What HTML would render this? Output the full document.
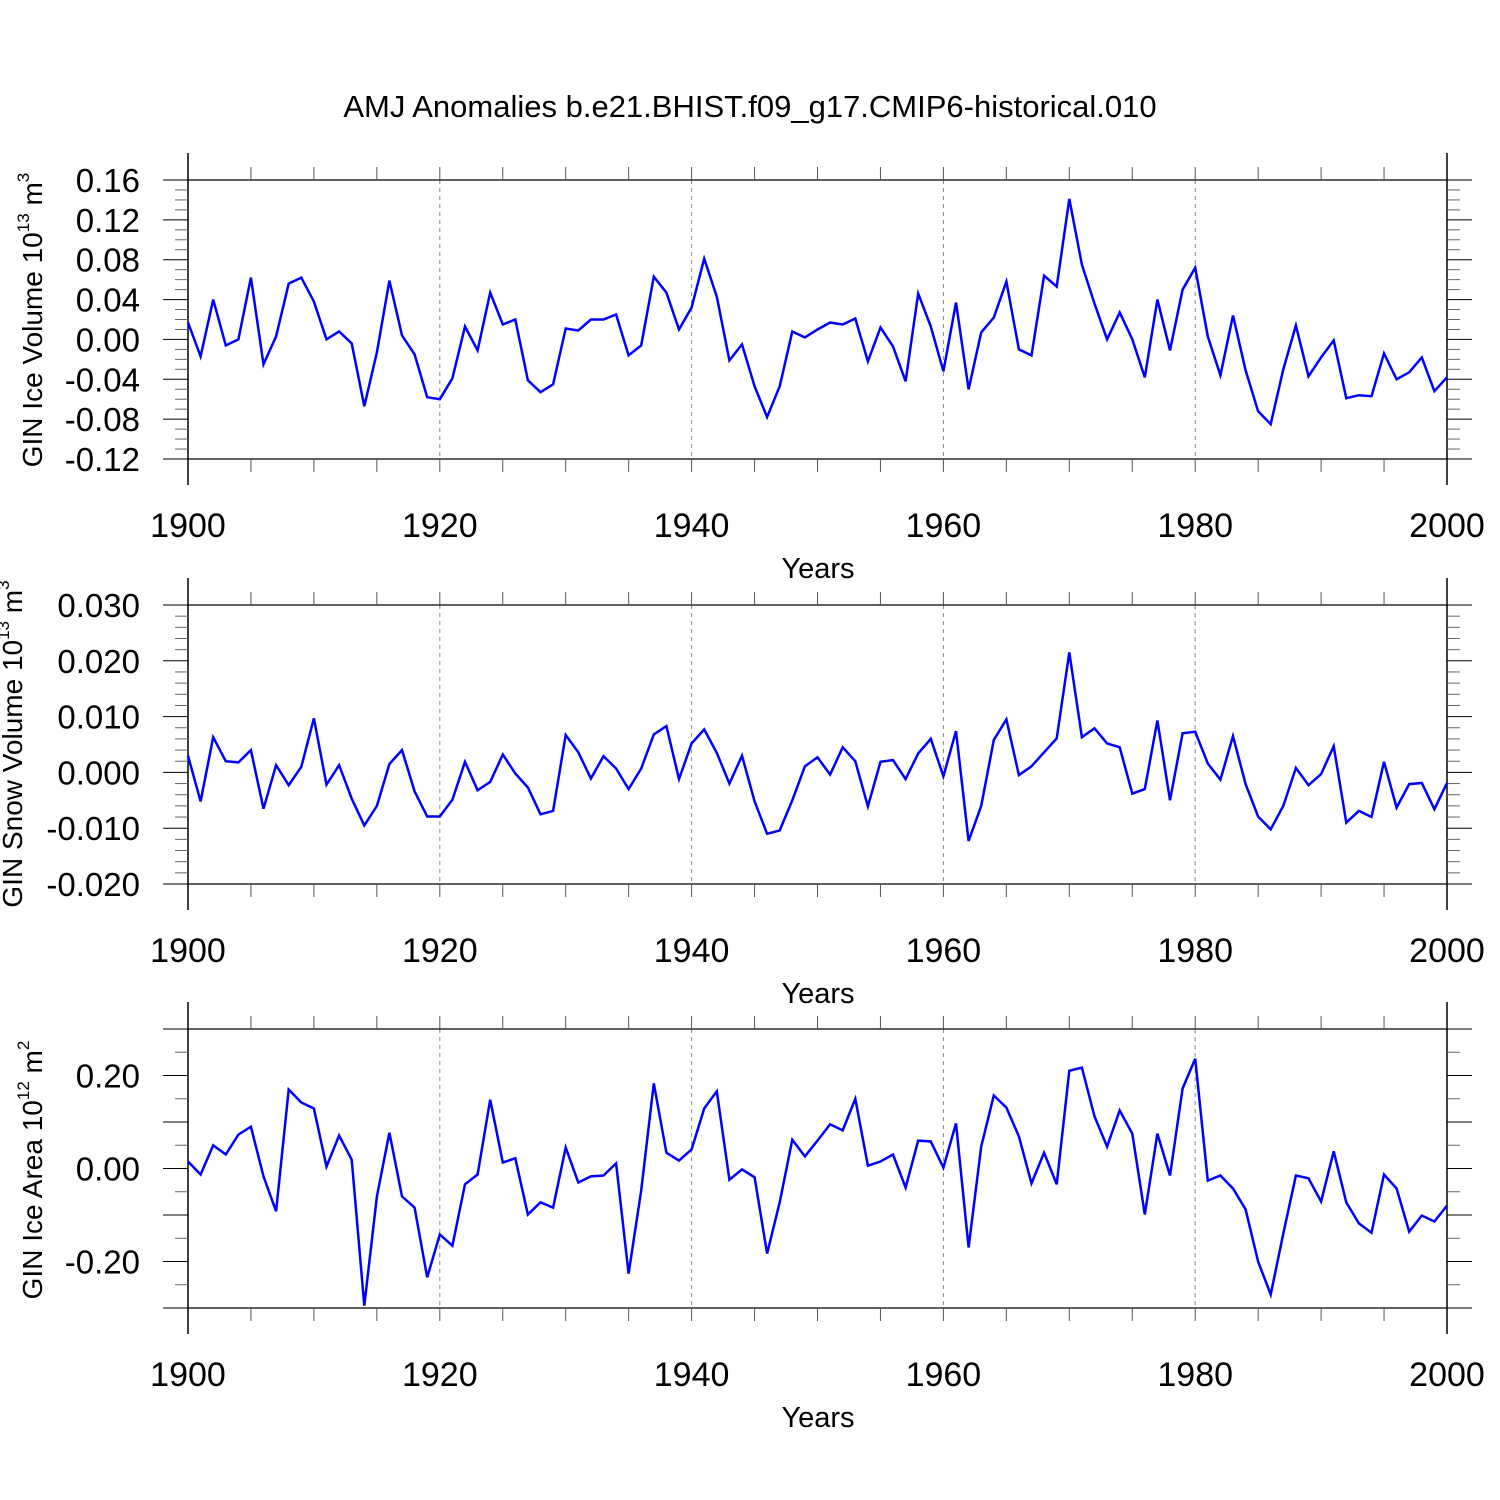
<!DOCTYPE html>
<html><head><meta charset="utf-8"><style>
body{margin:0;background:#fff}svg{display:block;font-family:"Liberation Sans",Arial,sans-serif}
</style></head><body>
<svg id="c" width="1500" height="1500" viewBox="0 0 1500 1500">
<text x="750" y="117" text-anchor="middle" font-size="31">AMJ Anomalies b.e21.BHIST.f09_g17.CMIP6-historical.010</text>
</svg>
<script>
const years=[];for(let y=1900;y<=2000;y++)years.push(y);
const iceVolume=[.017,-.017,.040,-.006,0,.062,-.025,.003,.056,.062,.038,0,.008,-.004,-.067,-.013,.059,.004,-.015,-.058,-.06,-.039,.013,-.011,.047,.015,.02,-.041,-.053,-.045,.011,.009,.02,.02,.025,-.016,-.006,.063,.047,.01,.032,.081,.043,-.021,-.005,-.047,-.078,-.047,.008,.002,.01,.017,.015,.021,-.022,.012,-.007,-.042,.046,.013,-.032,.037,-.05,.007,.022,.058,-.01,-.016,.064,.053,.141,.075,.036,0,.027,0,-.038,.04,-.011,.05,.072,.003,-.036,.024,-.031,-.072,-.085,-.03,.014,-.037,-.018,-.001,-.059,-.056,-.057,-.014,-.04,-.033,-.018,-.052,-.038];
const snowVolume=[.003,-.0052,.0063,.002,.0018,.004,-.0065,.0013,-.0023,.001,.0097,-.0022,.0013,-.0047,-.0095,-.006,.0015,.004,-.0034,-.0079,-.0079,-.0049,.0019,-.0032,-.0017,.0032,-.0002,-.0027,-.0075,-.0069,.0067,.0036,-.0011,.0029,.0007,-.003,.0007,.0068,.0083,-.0012,.0052,.0077,.0035,-.002,.003,-.0052,-.011,-.0104,-.005,.0011,.0027,-.0004,.0045,.002,-.0061,.0019,.0022,-.0012,.0034,.006,-.0007,.0074,-.0123,-.006,.0058,.0095,-.0005,.0011,.0036,.0061,.0215,.0063,.0079,.0052,.0045,-.0038,-.003,.0093,-.005,.007,.0073,.0016,-.0013,.0065,-.0021,-.0079,-.0102,-.006,.0008,-.0023,-.0003,.0047,-.009,-.0069,-.008,.0019,-.0063,-.0021,-.0019,-.0066,-.0019];
const iceArea=[.015,-.013,.05,.03,.073,.09,-.017,-.092,.17,.142,.129,.004,.071,.019,-.295,-.06,.077,-.06,-.084,-.234,-.142,-.166,-.034,-.013,.148,.013,.022,-.099,-.073,-.084,.045,-.03,-.017,-.015,.011,-.226,-.047,.183,.034,.017,.041,.129,.166,-.024,-.002,-.019,-.183,-.073,.062,.026,.06,.095,.082,.15,.006,.015,.03,-.041,.06,.058,.002,.097,-.17,.047,.157,.131,.069,-.032,.034,-.034,.21,.217,.112,.047,.125,.075,-.099,.075,-.015,.172,.236,-.026,-.015,-.043,-.088,-.2,-.271,-.14,-.015,-.021,-.071,.037,-.073,-.118,-.138,-.013,-.043,-.136,-.101,-.114,-.08];
const xTickLabels=["1900","1920","1940","1960","1980","2000"];
const iceVolTicks=["0.16","0.12","0.08","0.04","0.00","-0.04","-0.08","-0.12"];
const snowTicks=["0.030","0.020","0.010","0.000","-0.010","-0.020"];
const areaTicks=["0.20","0.00","-0.20"];

const svg=document.getElementById('c');const NS='http://www.w3.org/2000/svg';
function mk(t,a,p){const e=document.createElementNS(NS,t);for(const k in a)e.setAttribute(k,a[k]);(p||svg).appendChild(e);return e;}
const X0=188,X1=1447;
function xs(y){return X0+(y-1900)/100*(X1-X0);}
function panel(cfg){
 const g=mk('g',{});
 
 
 const T=cfg.top,B=cfg.bot;
 const ys=v=>T+(cfg.max-v)/(cfg.max-cfg.min)*(B-T);
 for(let y=1920;y<=1980;y+=20){const l=mk('line',{x1:xs(y),x2:xs(y),y1:T,y2:B,stroke:'#888','stroke-width':1,'stroke-dasharray':'4,4'},g);
  }
 mk('line',{x1:X0,x2:X1,y1:T,y2:T,stroke:'#000','stroke-width':1.2},g);
 mk('line',{x1:X0,x2:X1,y1:B,y2:B,stroke:'#000','stroke-width':1.2},g);
 mk('line',{x1:X0,x2:X0,y1:T-27,y2:B+26,stroke:'#000','stroke-width':1.5},g);
 mk('line',{x1:X1,x2:X1,y1:T-27,y2:B+26,stroke:'#000','stroke-width':1.5},g);
 for(let y=1905;y<2000;y+=5){const x=xs(y);
  mk('line',{x1:x,x2:x,y1:T-13,y2:T,stroke:'#555','stroke-width':1},g);
  mk('line',{x1:x,x2:x,y1:B,y2:B+13,stroke:'#555','stroke-width':1},g);}
 const nMin=Math.round((cfg.max-cfg.min)/cfg.minor);
 for(let i=0;i<=nMin;i++){const v=cfg.max-i*cfg.minor;const y=ys(v);
  const maj=Math.abs(Math.round(v/cfg.major)*cfg.major-v)<cfg.minor/10;
  const L=maj?25:13;
  mk('line',{x1:X0-L,x2:X0,y1:y,y2:y,stroke:maj?'#000':'#666','stroke-width':1},g);
  mk('line',{x1:X1,x2:X1+L,y1:y,y2:y,stroke:maj?'#000':'#666','stroke-width':1},g);}
 cfg.ticks.forEach(t=>{const y=ys(parseFloat(t));const e=mk('text',{x:X0-48,y:y+12,'text-anchor':'end','font-size':33},g);e.textContent=t;
  });
 xTickLabels.forEach(t=>{const e=mk('text',{x:xs(+t),y:B+78,'text-anchor':'middle','font-size':34},g);e.textContent=t;
  });
 const xt=mk('text',{x:818,y:B+119,'text-anchor':'middle','font-size':29},g);xt.textContent='Years';
 
 const yt=mk('text',{x:0,y:0,'text-anchor':'middle','font-size':28,transform:`translate(${cfg.lx},${cfg.ly}) rotate(-90)`},g);
 yt.innerHTML=cfg.label+' 10<tspan font-size="17" dy="-13">'+cfg.exp+'</tspan><tspan dy="13"> m</tspan><tspan font-size="17" dy="-13">'+cfg.unit+'</tspan>';
 
 const pts=cfg.data.map((v,i)=>xs(years[i]).toFixed(1)+','+ys(v).toFixed(1)).join(' ');
 const pl=mk('polyline',{points:pts,fill:'none',stroke:'#0000ff','stroke-width':2.5,'stroke-linejoin':'miter'},g);
 
}
panel({name:'ice-volume',top:180,bot:459,max:0.16,min:-0.12,major:0.04,minor:0.01,ticks:iceVolTicks,data:iceVolume,label:'GIN Ice Volume',exp:'13',unit:'3',lx:42,ly:320});
panel({name:'snow-volume',top:605,bot:884,max:0.03,min:-0.02,major:0.01,minor:0.002,ticks:snowTicks,data:snowVolume,label:'GIN Snow Volume',exp:'13',unit:'3',lx:22,ly:744});
panel({name:'ice-area',top:1029,bot:1308,max:0.3,min:-0.3,major:0.1,minor:0.05,ticks:areaTicks,data:iceArea,label:'GIN Ice Area',exp:'12',unit:'2',lx:42,ly:1170});
</script>
</body></html>
